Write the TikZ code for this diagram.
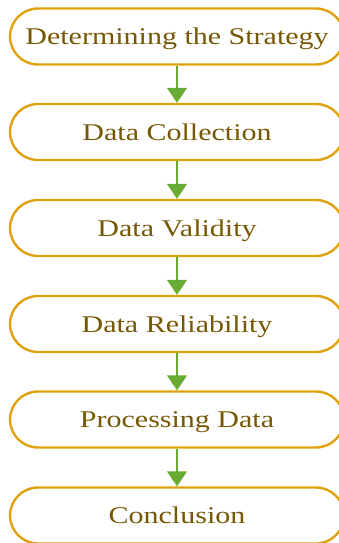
\documentclass[tikz,border=0pt]{standalone}
\usepackage{fontspec}
\setmainfont{Liberation Serif}
\newfontfamily\stepfont[FakeStretch=1.25]{Liberation Serif}
\usetikzlibrary{arrows.meta}

\definecolor{boxgold}{RGB}{224,162,12}
\definecolor{textbrown}{RGB}{118,88,4}
\definecolor{arrowgreen}{RGB}{104,172,52}

\begin{document}
\begin{tikzpicture}[x=1pt,y=1pt,
  stepbox/.style={shape=rectangle, rounded corners=28pt, minimum width=334pt,
    minimum height=56pt, draw=boxgold, line width=2.4pt, text=textbrown,
    text height=22pt, text depth=6pt,
    font=\stepfont\fontsize{24}{28}\selectfont},
  flow/.style={draw=arrowgreen, line width=1.5pt,
    -{Triangle[width=20pt,length=15pt]}}]
\useasboundingbox (0,0) rectangle (339,-543);

\path (177,-36.5) node (S1) [stepbox] {Determining the Strategy};
\path (177,-132) node (S2) [stepbox] {Data Collection};
\path (177,-228) node (S3) [stepbox] {Data Validity};
\path (177,-324) node (S4) [stepbox] {Data Reliability};
\path (177,-419.5) node (S5) [stepbox] {Processing Data};
\path (177,-515.5) node (S6) [stepbox] {Conclusion};

\foreach \a/\b in {S1/S2,S2/S3,S3/S4,S4/S5,S5/S6}
  \draw[flow] (\a.south) -- (\b.north);

\end{tikzpicture}
\end{document}
